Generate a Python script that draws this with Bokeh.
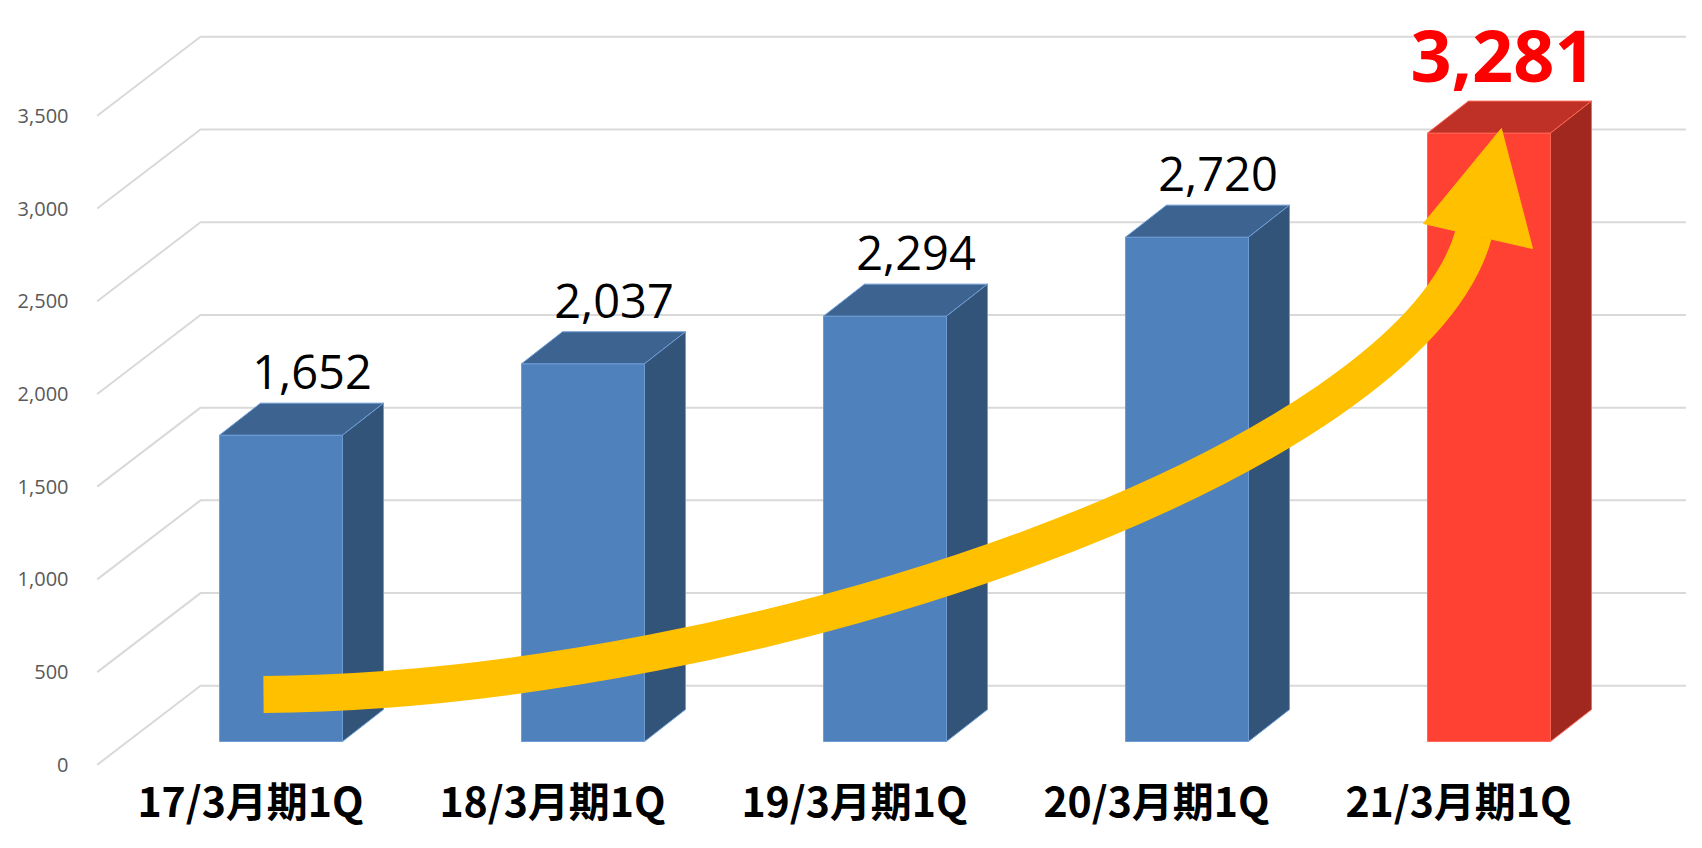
import numpy as np
from bokeh.plotting import figure
from bokeh.models import Range1d
from bokeh.core.properties import value
from bokeh.embed import file_html
from bokeh.resources import INLINE

# ---------------- data ----------------
categories = ["17/3月期1Q", "18/3月期1Q", "19/3月期1Q", "20/3月期1Q", "21/3月期1Q"]
sales = [1652, 2037, 2294, 2720, 3281]
value_labels = ["1,652", "2,037", "2,294", "2,720", "3,281"]
y_ticks = [0, 500, 1000, 1500, 2000, 2500, 3000, 3500]
y_tick_labels = ["0", "500", "1,000", "1,500", "2,000", "2,500", "3,000", "3,500"]
highlight = [False, False, False, False, True]

# trend arrow (annotation) in data units: (category index, value)
arrow_curve = dict(x0=0.043, y0=379, cx0=1.689, cy0=401, cx1=3.841, cy1=1641, x1=4.050, y1=2860)
arrow_head_x = [3.884, 4.142, 4.245]
arrow_head_y = [2919, 3431, 2784]

# ---------------- geometry / style ----------------
W, H = 1686, 832
X0, X1 = -0.82781, 4.75497
Y0, Y1 = -365.1, 4121.8
PX_X = (X1 - X0) / W      # data units per pixel (x)
PX_Y = (Y1 - Y0) / H      # data units per pixel (y)

p = figure(width=W, height=H, x_range=Range1d(X0, X1), y_range=Range1d(Y0, Y1),
           output_backend="svg", toolbar_location=None,
           x_axis_location=None, y_axis_location=None, min_border=0)
p.outline_line_color = None
p.xgrid.visible = False
p.ygrid.visible = False
p.background_fill_color = "white"
p.border_fill_color = "white"

# gridlines: front edge -> back wall -> across
GRID_FRONT_X = -0.5076
BACK_DX = 103.3 * PX_X
BACK_DY = 79.0 * PX_Y
GRID_END_X = X1 + 0.2
gx = [[GRID_FRONT_X, GRID_FRONT_X + BACK_DX, GRID_END_X] for _ in y_ticks]
gy = [[v, v + BACK_DY, v + BACK_DY] for v in y_ticks]
p.multi_line(gx, gy, line_color="#D9D9D9", line_width=2)

# y tick labels (front plane)
p.text(x=[GRID_FRONT_X - 28.7 * PX_X] * len(y_ticks), y=y_ticks, text=y_tick_labels,
       text_align="right", text_baseline="middle", text_font=value("Open Sans"),
       text_font_size="20px", text_color="#595959")

# bars (3D boxes)
n = len(sales)
idx = np.arange(n, dtype=float)
vals = np.array(sales, dtype=float)
BAR_DX = 30.5 * PX_X
BAR_DY = 23.3 * PX_Y
HALF_W = 61.5 * PX_X
DEP_X = 41.0 * PX_X
DEP_Y = 32.0 * PX_Y
L = idx + BAR_DX - HALF_W
R = idx + BAR_DX + HALF_W
B = np.full(n, BAR_DY)
T = vals + BAR_DY

front_c = ["#FF4133" if h else "#4F81BD" for h in highlight]
top_c = ["#BF3026" if h else "#3D6490" for h in highlight]
side_c = ["#A0281F" if h else "#335479" for h in highlight]
edge_c = ["#FF6656" if h else "#6E9DD6" for h in highlight]

p.quad(left=L, right=R, bottom=B, top=T, fill_color=front_c, line_color=edge_c, line_width=1)
p.patches([[l, r, r + DEP_X, l + DEP_X] for l, r in zip(L, R)],
          [[t, t, t + DEP_Y, t + DEP_Y] for t in T],
          fill_color=top_c, line_color=edge_c, line_width=1)
p.patches([[r, r + DEP_X, r + DEP_X, r] for r in R],
          [[b, b + DEP_Y, t + DEP_Y, t] for b, t in zip(B, T)],
          fill_color=side_c, line_color=edge_c, line_width=1)

# trend arrow
p.bezier(x0=[arrow_curve["x0"]], y0=[arrow_curve["y0"]],
         x1=[arrow_curve["x1"]], y1=[arrow_curve["y1"]],
         cx0=[arrow_curve["cx0"]], cy0=[arrow_curve["cy0"]],
         cx1=[arrow_curve["cx1"]], cy1=[arrow_curve["cy1"]],
         line_color="#FFC000", line_width=37, line_cap="butt")
p.patch(arrow_head_x, arrow_head_y, fill_color="#FFC000", line_color="#FFC000", line_width=1)

# value labels
reg = [i for i in range(n) if not highlight[i]]
hi = [i for i in range(n) if highlight[i]]
p.text(x=[idx[i] + BAR_DX + 31 * PX_X for i in reg],
       y=[T[i] + 63 * PX_Y for i in reg],
       text=[value_labels[i] for i in reg],
       text_align="center", text_baseline="middle",
       text_font=value("Open Sans"), text_font_size="47px", text_color="#000000")
p.text(x=[idx[i] + BAR_DX + 14 * PX_X for i in hi],
       y=[T[i] + 77 * PX_Y for i in hi],
       text=[value_labels[i] for i in hi],
       text_align="center", text_baseline="middle",
       text_font=value("Open Sans"), text_font_style="bold",
       text_font_size="72px", text_color="#FF0000")

# category labels (kept inside the canvas)
CAT_Y = Y1 - 798 * PX_Y
p.text(x=idx, y=[CAT_Y] * n, text=categories,
       text_align="center", text_baseline="middle",
       text_font=value("Noto Sans CJK JP"), text_font_style="bold",
       text_font_size="41px", text_color="#000000")

open("out.html", "w").write(file_html(p, INLINE))
